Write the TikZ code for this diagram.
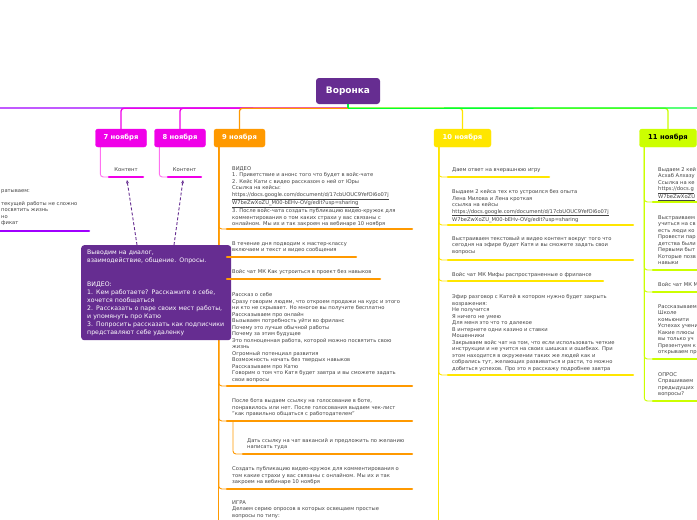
\documentclass[tikz,border=0pt]{standalone}
\usepackage{fontspec}
\setmainfont{DejaVu Sans}
\usetikzlibrary{arrows.meta,backgrounds}

\definecolor{funnel}{HTML}{662D91}
\definecolor{lviolet}{HTML}{A000FF}
\definecolor{mag}{HTML}{F000E8}
\definecolor{lmag}{HTML}{FF70F0}
\definecolor{orng}{HTML}{FF9900}
\definecolor{yel}{HTML}{FFE600}
\definecolor{limeg}{HTML}{CCFF00}
\definecolor{grn}{HTML}{00FF33}
\definecolor{notetxt}{HTML}{444444}

\tikzset{
  daybox/.style={fill=#1,draw=#1,rounded corners=2.5,minimum width=51,minimum height=18,inner sep=0,text=white,font=\fontsize{6.8}{8}\selectfont\bfseries},
  note/.style={anchor=north west,align=left,inner sep=0,text=notetxt,font=\fontsize{5.2}{6.5}\selectfont},
  ul/.style={draw=#1,line width=2.5,line cap=round},
  conn/.style={draw=#1,line width=1.3,rounded corners=3},
  br/.style={draw=#1,line width=0.9,rounded corners=3},
}

\begin{document}
\begin{tikzpicture}[x=1pt,y=-1pt]
\useasboundingbox (0,0) rectangle (697,520);
\clip (0,0) rectangle (697,520);

\node[fill=funnel,rounded corners=3,minimum width=64,minimum height=26,inner sep=0,text=white,font=\fontsize{9}{10}\selectfont\bfseries] (root) at (348,91) {Воронка};
\path (root.south) ++(0,4) coordinate (hub);
\coordinate (offl) at (-5,108);
\coordinate (offr) at (705,108);

\node[daybox=mag] (d7) at (121,138) {7 ноября};
\node[daybox=mag] (d8) at (180,138) {8 ноября};
\node[daybox=orng] (d9) at (239.5,138) {9 ноября};
\node[daybox=yel,minimum width=57] (d10) at (462.5,138) {10 ноября};
\node[daybox=limeg,minimum width=57,text=black] (d11) at (668,138) {11 ноября};

% left branch, cut by the page
\node[note] (l1) at (1,189.3) {ратываем:\\[6.5pt]текущей работы не сложно\\посвятить жизнь\\но\\фикат};
\draw[ul=lviolet] (-5,231) -- (89,231);

% callout
\node[anchor=north west,fill=funnel,rounded corners=3,minimum width=150,minimum height=95,text width=138,inner xsep=6,inner ysep=0,align=left,text=white,font=\fontsize{6.2}{8}\selectfont] (call) at (81,245)
  {Выводим на диалог,\\взаимодействие, общение. Опросы.\\[16pt]ВИДЕО:\\1. Кем работаете? Расскажите о себе,\\хочется пообщаться\\2. Рассказать о паре своих мест работы,\\и упомянуть про Катю\\3. Попросить рассказать как подписчики\\представляют себе удаленку};

% 7 and 8
\node[font=\fontsize{5.3}{6}\selectfont,text=notetxt] (k7) at (126,170) {Контент};
\draw[ul=mag] (109,177) coordinate (u7) -- (143,177);
\node[font=\fontsize{5.3}{6}\selectfont,text=notetxt] (k8) at (184.5,170) {Контент};
\draw[ul=mag] (168,177) coordinate (u8) -- (201,177);
\coordinate (a7) at (127,180);
\coordinate (a8) at (183,180);
\draw[funnel,line width=0.9,dash pattern=on 3pt off 2pt,-{Stealth[length=3.5,width=3]}] ([xshift=56]call.north west) -- (a7);
\draw[funnel,line width=0.9,dash pattern=on 3pt off 2pt,-{Stealth[length=3.5,width=3]}] ([xshift=93]call.north west) -- (a8);

% 9
\node[note] (n9a) at (232,166.3) {ВИДЕО\\1. Приветствие и анонс того что будет в войс-чате\\2. Кейс Кати с видео рассказом о ней от Юры\\Ссылка на кейсы:\\\underline{https://docs.google.com/document/d/17cbUOUC9YefOi6o07j}\\\underline{W7beZwXoZU\_M00-bEHv-OVg/edit?usp=sharing}\\3. После войс-чата создать публикацию видео-кружок для\\комментирования о том каких страхи у вас связаны с\\онлайном. Мы их и так закроем на вебинаре 10 ноября};
\draw[ul=orng] (227,229) coordinate (u9a) -- (412,229);
\node[note] (n9b) at (232,241.3) {В течение дня подводим к мастер-классу\\включаем и текст и видео сообщения};
\draw[ul=orng] (227,257) coordinate (u9b) -- (356,257);
\node[note] (n9c) at (232,269.3) {Войс чат МК Как устроиться в проект без навыков};
\draw[ul=orng] (227,279) coordinate (u9c) -- (380,279);
\node[note] (n9d) at (232,292.3) {Рассказ о себе\\Сразу говорим людям, что откроем продажи на курс и этого\\ни кто не скрывает. Но многое вы получите бесплатно\\Рассказываем про онлайн\\Вызываем потребность уйти во фриланс\\Почему это лучше обычной работы\\Почему за этим будущее\\Это полноценная работа, которой можно посвятить свою\\жизнь\\Огромный потенциал развития\\Возможность начать без твердых навыков\\Рассказываем про Катю\\Говорим о том что Катя будет завтра и вы сможете задать\\свои вопросы};
\draw[ul=orng] (227,386) coordinate (u9d) -- (412,386);
\node[note] (n9e) at (232,398.3) {После бота выдаем ссылку на голосование в боте,\\понравилось или нет. После голосования выдаем чек-лист\\"как правильно общаться с работодателем"};
\draw[ul=orng] (227,421) coordinate (u9e) -- (412,421);
\node[note] (n9f) at (247,438.3) {Дать ссылку на чат вакансий и предложить по желанию\\написать туда};
\draw[ul=orng] (243,454) coordinate (u9f) -- (412,454);
\node[note] (n9g) at (232,466.3) {Создать публикацию видео-кружок для комментирования о\\том какие страхи у вас связаны с онлайном. Мы их и так\\закроем на вебинаре 10 ноября};
\draw[ul=orng] (227,489) coordinate (u9g) -- (412,489);
\node[note] (n9h) at (232,500.3) {ИГРА\\Делаем серию опросов в которых освещаем простые\\вопросы по типу:};

% 10
\node[note] (n10a) at (452,167.3) {Даем ответ на вчерашнюю игру};
\draw[ul=yel] (448,177) coordinate (u10a) -- (549,177);
\node[note] (n10b) at (452,189.3) {Выдаем 2 кейса тех кто устроился без опыта\\Лена Милова и Лена кроткая\\ссылка на кейсы\\\underline{https://docs.google.com/document/d/17cbUOUC9YefOi6o07j}\\\underline{W7beZwXoZU\_M00-bEHv-OVg/edit?usp=sharing}};
\draw[ul=yel] (448,225) coordinate (u10b) -- (633,225);
\node[note] (n10c) at (452,236.3) {Выстраиваем текстовый и видео контент вокруг того что\\сегодня на эфире будет Катя и вы сможете задать свои\\вопросы};
\draw[ul=yel] (448,260) coordinate (u10c) -- (633,260);
\node[note] (n10d) at (452,272.3) {Войс чат МК Мифы распространенные о фрилансе};
\draw[ul=yel] (448,281) coordinate (u10d) -- (603,281);
\node[note] (n10e) at (452,294.3) {Эфир разговор с Катей в котором нужно будет закрыть\\возражения:\\Не получится\\Я ничего не умею\\Для меня это что то далекое\\В интернете одни казино и ставки\\Мошенники\\Закрываем войс чат на том, что если использовать четкие\\инструкции и не учится на своих шишках и ошибках. При\\этом находится в окружении таких же людей как и\\собрались тут, желающих развиваться и расти, то можно\\добиться успехов. Про это я расскажу подробнее завтра};
\draw[ul=yel] (448,375) coordinate (u10e) -- (633,375);

% 11
\node[note] (n11a) at (658,167.3) {Выдаем 2 кей\\Асхаб Алхазу\\Ссылка на ке\\\underline{https://docs.g}\\\underline{W7beZwXoZU}};
\draw[ul=limeg] (653,202) coordinate (u11a) -- (705,202);
\node[note] (n11b) at (658,215.3) {Выстраиваем\\учиться на св\\есть люди ко\\Провести пар\\детства были\\Первыми быт\\Которые позв\\навыки};
\draw[ul=limeg] (653,270) coordinate (u11b) -- (705,270);
\node[note] (n11c) at (658,282.3) {Войс чат МК М};
\draw[ul=limeg] (653,292) coordinate (u11c) -- (705,292);
\node[note] (n11d) at (658,304.3) {Рассказываем\\Школе\\комьюнити\\Успехах учени\\Какие плюсы\\вы только уч\\Презентуем к\\открываем пр};
\draw[ul=limeg] (653,359) coordinate (u11d) -- (705,359);
\node[note] (n11e) at (658,372.3) {ОПРОС\\Спрашиваем\\предыдущих\\вопросы?};
\draw[ul=limeg] (653,401) coordinate (u11e) -- (705,401);

\begin{scope}[on background layer]
\clip (0,0) rectangle (697,520);
\fill[white] (0,0) rectangle (697,520);
% lines from the root
\draw[conn=lviolet] (hub) -- (offl);
\draw[conn=mag] (hub) -| (d7.north);
\draw[conn=mag] (hub) -| (d8.north);
\draw[conn=orng] (hub) -| (d9.north);
\draw[conn=yel] (hub) -| (d10.north);
\draw[conn=limeg] (hub) -| (d11.north);
\draw[conn=grn] (hub) -- (offr);
\draw[conn=grn] (root.south) -- (hub);
% branches
\draw[br=lmag] ([xshift=5]d7.south west) |- (u7);
\draw[br=lmag] ([xshift=5]d8.south west) |- (u8);
\draw[br=orng] ([xshift=5]d9.south west) -- ++(0,400);
\foreach \u in {u9a,u9b,u9c,u9d,u9e,u9g}
  \draw[br=orng] ([xshift=5]d9.south west) |- (\u);
\draw[br=orng] ([xshift=6]u9e) |- (u9f);
\draw[br=yel] ([xshift=5]d10.south west) -- ++(0,400);
\foreach \u in {u10a,u10b,u10c,u10d,u10e}
  \draw[br=yel] ([xshift=5]d10.south west) |- (\u);
\foreach \u in {u11a,u11b,u11c,u11d,u11e}
  \draw[br=limeg] ([xshift=5]d11.south west) |- (\u);
\end{scope}
\end{tikzpicture}
\end{document}
